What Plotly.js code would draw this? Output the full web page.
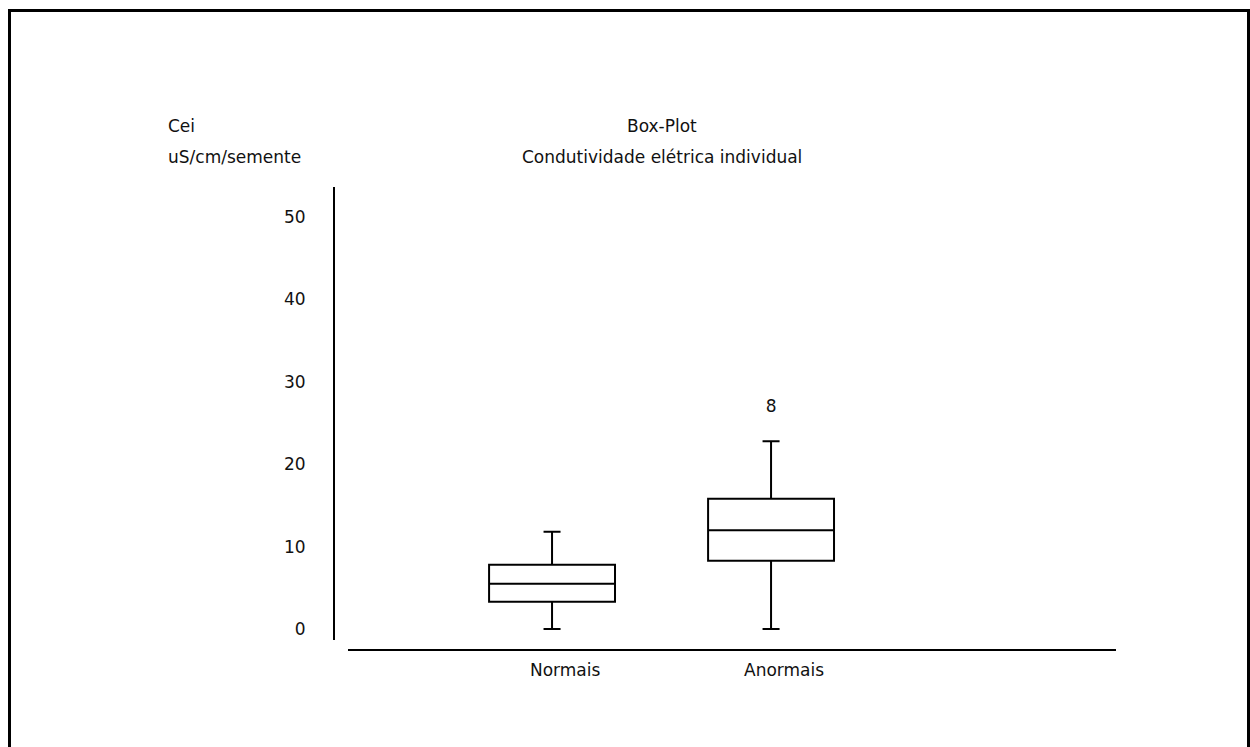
<!DOCTYPE html>
<html>
<head>
<meta charset="utf-8">
<script src="https://cdn.plot.ly/plotly-3.0.1.min.js"></script>
<style>html,body{margin:0;padding:0;background:#fff;}#chart{width:1250px;height:747px;}</style>
</head>
<body>
<div id="chart"></div>
<script>
// ---- data ----
const categories = ['Normais', 'Anormais'];
const lowerWhisker = [0, 0];
const q1 = [3.3, 8.3];
const median = [5.5, 12.0];
const q3 = [7.8, 15.8];
const upperWhisker = [11.8, 22.8];
const outlierGroup = ['Anormais'];
const outlierValue = [26.8];
const outlierCase = ['8'];
const yTickVals = [0, 10, 20, 30, 40, 50];
const yTitleLines = ['Cei', 'uS/cm/semente'];
const titleLines = ['Box-Plot', 'Condutividade elétrica individual'];

const FONT = {family: 'DejaVu Sans, Arial, sans-serif', size: 17, color: '#111'};
const xPos = categories.map((c, i) => i + 1);
const outX = outlierGroup.map(g => categories.indexOf(g) + 1);

const traces = [
  {
    type: 'box',
    x: xPos,
    q1: q1, median: median, q3: q3,
    lowerfence: lowerWhisker, upperfence: upperWhisker,
    width: 0.575,
    whiskerwidth: 0.135,
    boxpoints: false,
    fillcolor: '#ffffff',
    line: {color: '#000', width: 2},
    hoverinfo: 'skip',
    showlegend: false
  },
  {
    type: 'scatter',
    mode: 'text',
    x: outX,
    y: outlierValue,
    text: outlierCase,
    textposition: 'middle center',
    textfont: FONT,
    hoverinfo: 'skip',
    showlegend: false
  }
];

// plot area: x 335..1116, y 187..640
const PL = 335, PR = 1116, PT = 187, PB = 640;
const px = v => (v - PL) / (PR - PL);
const py = v => (PB - v) / (PB - PT);

const annotations = [];
yTitleLines.forEach((t, i) => annotations.push({
  text: t, xref: 'paper', yref: 'paper', x: px(166), y: py(126 + 31 * i),
  xanchor: 'left', yanchor: 'middle', showarrow: false, font: FONT
}));
titleLines.forEach((t, i) => annotations.push({
  text: t, xref: 'paper', yref: 'paper', x: px(662), y: py(126 + 31 * i),
  xanchor: 'center', yanchor: 'middle', showarrow: false, font: FONT
}));
categories.forEach((c, i) => annotations.push({
  text: c, xref: 'x', yref: 'paper', x: xPos[i], xshift: 13, y: py(670),
  xanchor: 'center', yanchor: 'middle', showarrow: false, font: FONT
}));

const layout = {
  width: 1250, height: 747,
  margin: {l: PL, r: 1250 - PR, t: PT, b: 747 - PB, pad: 0},
  paper_bgcolor: '#fff', plot_bgcolor: '#fff',
  font: FONT,
  showlegend: false,
  xaxis: {
    range: [0.009, 3.575], visible: false, showgrid: false, zeroline: false, fixedrange: true
  },
  yaxis: {
    range: [-1.33, 53.64], tickvals: yTickVals, ticks: '', showgrid: false, zeroline: false,
    showline: true, linecolor: '#000', linewidth: 2, ticklabelstandoff: 24,
    tickfont: FONT, fixedrange: true
  },
  shapes: [
    {type: 'line', xref: 'paper', yref: 'paper', x0: px(348), x1: px(1116), y0: py(650), y1: py(650),
     line: {color: '#000', width: 2}},
    {type: 'rect', xref: 'paper', yref: 'paper', x0: px(9.5), x1: px(1248.5), y0: py(770), y1: py(10.5),
     line: {color: '#000', width: 3}, fillcolor: 'rgba(0,0,0,0)'}
  ],
  annotations: annotations
};

Plotly.newPlot('chart', traces, layout, {displayModeBar: false, staticPlot: true});
</script>
</body>
</html>
